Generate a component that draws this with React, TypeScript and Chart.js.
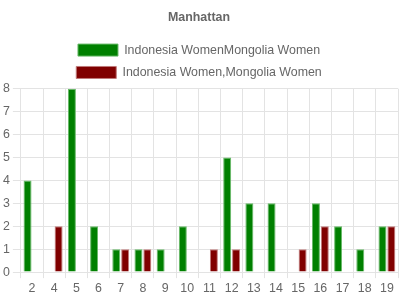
import React, { useEffect, useRef } from "react";
import { Chart, registerables } from "chart.js";

Chart.register(...registerables);

const categories = ["2", "4", "5", "6", "7", "8", "9", "10", "11", "12", "13", "14", "15", "16", "17", "18", "19"];
const seriesGreen = [4, 0, 8, 2, 1, 1, 1, 2, 0, 5, 3, 3, 0, 3, 2, 1, 2];
const seriesRed = [0, 2, 0, 0, 1, 1, 0, 0, 1, 1, 0, 0, 1, 2, 0, 0, 2];
const labelGreen = "Indonesia WomenMongolia Women";
const labelRed = "Indonesia Women,Mongolia Women";

const FONT = "Liberation Sans, Arial, sans-serif";

export default function App() {
  const ref = useRef<HTMLCanvasElement | null>(null);
  useEffect(() => {
    document.body.style.margin = "0";
    const ctx = ref.current!;
    const chart = new Chart(ctx, {
      type: "bar",
      data: {
        labels: categories,
        datasets: [
          { label: labelGreen, data: seriesGreen, backgroundColor: "#008000", borderColor: "#66b866", borderWidth: 1 },
          { label: labelRed, data: seriesRed, backgroundColor: "#800000", borderColor: "#c07a7a", borderWidth: 1 },
        ],
      },
      options: {
        animation: false,
        responsive: false,
        maintainAspectRatio: false,
        layout: { padding: { left: 0, right: 2, top: 0, bottom: 1 } },
        plugins: {
          title: { display: true, text: "Manhattan", color: "#666", font: { family: FONT, size: 12.4, weight: "bold" }, padding: { top: 10, bottom: 9 } },
          legend: {
            position: "top",
            labels: { color: "#666", boxWidth: 40, boxHeight: 12, font: { family: FONT, size: 12.4 } },
          },
          tooltip: { enabled: false },
        },
        scales: {
          x: {
            grid: { color: "#e3e3e3", offset: true, drawTicks: true, tickLength: 6 },
            border: { color: "#e3e3e3" },
            ticks: { color: "#666", font: { family: FONT, size: 12.4 } },
          },
          y: {
            min: 0,
            max: 8,
            grid: { color: "#e3e3e3", drawTicks: true, tickLength: 8 },
            border: { display: false },
            ticks: { stepSize: 1, color: "#666", padding: 3, font: { family: FONT, size: 12.4 } },
          },
        },
      },
    });
    return () => chart.destroy();
  }, []);
  return (
    <div style={{ width: 400, height: 300 }}>
      <canvas ref={ref} width={400} height={300} style={{ display: "block" }} />
    </div>
  );
}
